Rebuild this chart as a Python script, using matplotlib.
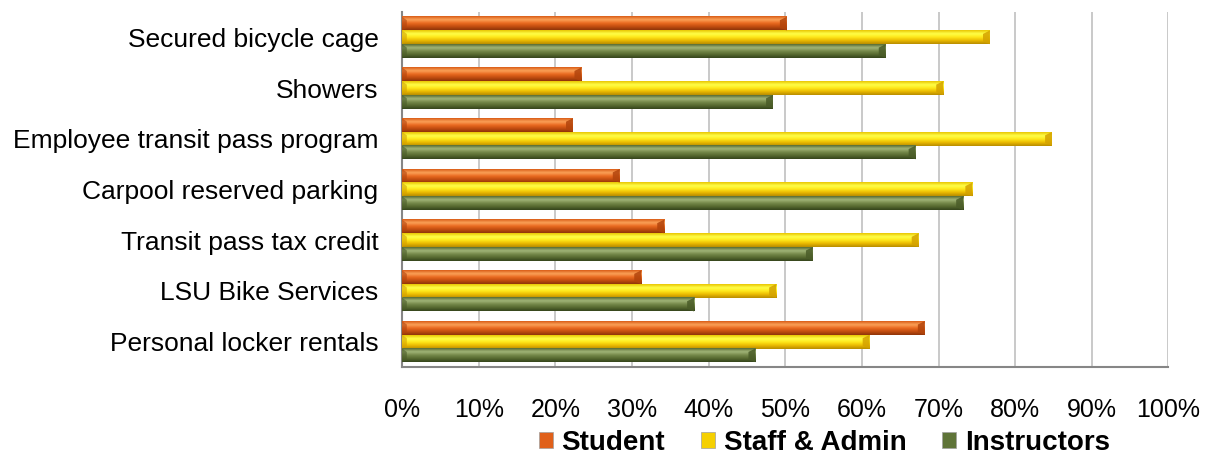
import matplotlib.pyplot as plt
import numpy as np
from matplotlib.colors import LinearSegmentedColormap
from matplotlib.patches import Polygon, Patch

plt.rcParams['font.family'] = ['Liberation Sans', 'DejaVu Sans']

categories = ['Secured bicycle cage', 'Showers', 'Employee transit pass program',
              'Carpool reserved parking', 'Transit pass tax credit',
              'LSU Bike Services', 'Personal locker rentals']
series = ['Student', 'Staff & Admin', 'Instructors']
student = [50.2, 23.4, 22.3, 28.4, 34.2, 31.2, 68.2]
staff = [76.7, 70.6, 84.8, 74.4, 67.4, 48.8, 61.0]
instructors = [63.1, 48.4, 67.0, 73.2, 53.6, 38.1, 46.1]
xticks = [0, 10, 20, 30, 40, 50, 60, 70, 80, 90, 100]

# top-to-bottom shading for each series: edge, highlight, body, shadow
shades = {
    'Student': ['#d85a14', '#fba35a', '#ea6a20', '#c24d10', '#8e3409'],
    'Staff & Admin': ['#e8c400', '#ffff4a', '#ffe81a', '#eab800', '#b78c00'],
    'Instructors': ['#55692f', '#a3b67a', '#75894a', '#56692f', '#34441c'],
}
bevel = {'Student': '#b2440c', 'Staff & Admin': '#d4a200', 'Instructors': '#4a5c28'}
legend_face = {'Student': '#e0601a', 'Staff & Admin': '#f5d000', 'Instructors': '#5f7438'}

fig = plt.figure(figsize=(12.09, 4.59), dpi=100)
ax = fig.add_axes([0.3325, 0.2004, 0.6340, 0.7735])

h = 0.27
grad = np.linspace(0, 1, 64).reshape(-1, 1)
values = [student, staff, instructors]
n = len(categories)
for i, cat in enumerate(categories):
    yc = n - 1 - i
    for j, name in enumerate(series):
        v = values[j][i]
        top = yc + 1.5 * h - j * h
        bot = top - h
        cmap = LinearSegmentedColormap.from_list(name, shades[name])
        ax.imshow(grad, extent=[0, v, bot, top], origin='upper', cmap=cmap,
                  aspect='auto', interpolation='bicubic', zorder=3)
        # slanted end caps
        d = 0.9
        ax.add_patch(Polygon([[v - d, top - h * 0.25], [v, top], [v, bot], [v - d, bot + h * 0.2]],
                             closed=True, facecolor=bevel[name], edgecolor='none', alpha=0.85, zorder=4))
        ax.add_patch(Polygon([[0, top], [d * 0.7, top - h * 0.25], [d * 0.7, bot + h * 0.2], [0, bot]],
                             closed=True, facecolor=bevel[name], edgecolor='none', alpha=0.6, zorder=4))

ax.set_xlim(0, 100)
ax.set_ylim(-0.5, n - 0.5)
ax.set_xticks(xticks)
ax.set_xticklabels([f'{t}%' for t in xticks], fontsize=18)
ax.set_yticks(range(n))
ax.set_yticklabels(categories[::-1], fontsize=19)
ax.tick_params(axis='x', length=0, pad=22)
ax.tick_params(axis='y', length=0, pad=17)
ax.grid(axis='x', color='#c0c0c0', linewidth=1.2, zorder=0)
ax.set_axisbelow(True)
for s in ['top', 'right']:
    ax.spines[s].set_visible(False)
for s in ['left', 'bottom']:
    ax.spines[s].set_color('#868686')
    ax.spines[s].set_linewidth(1.5)

handles = [Patch(facecolor=legend_face[s], edgecolor='#a0a0a0', linewidth=0.5) for s in series]
fig.legend(handles, series, loc='center', bbox_to_anchor=(0.682, 0.035), ncol=3, frameon=False,
           prop={'weight': 'bold', 'size': 20}, handlelength=0.5, handleheight=0.5,
           handletextpad=0.3, columnspacing=1.3, borderpad=0)

fig.savefig('out.png', dpi=100)
